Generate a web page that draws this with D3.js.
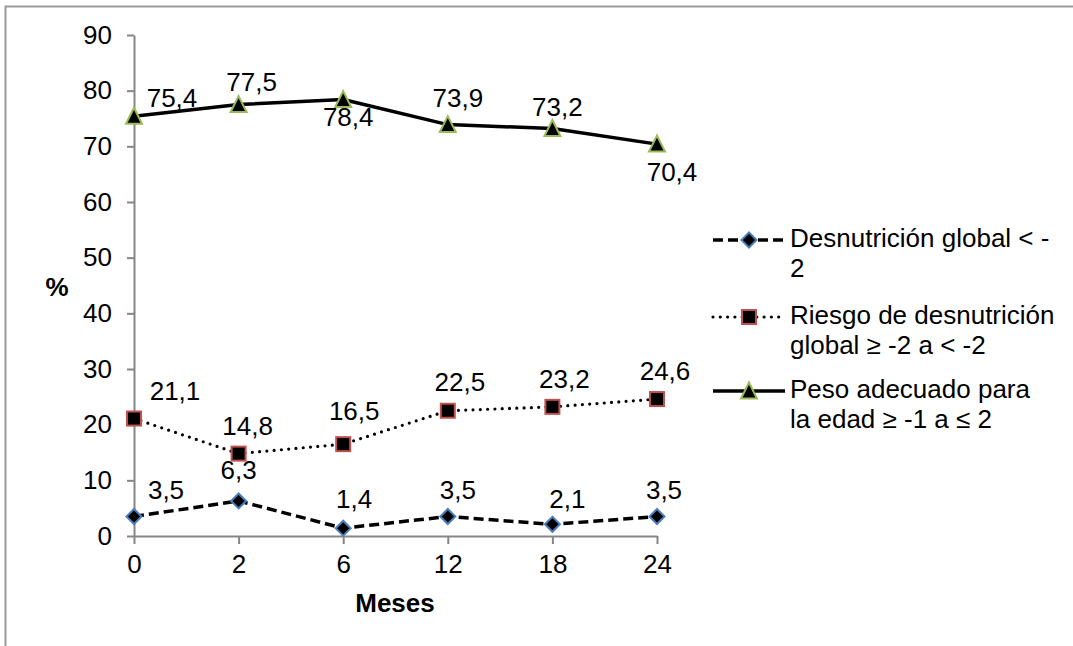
<!DOCTYPE html>
<html>
<head>
<meta charset="utf-8">
<script src="https://cdn.jsdelivr.net/npm/d3@7"></script>
<style>
  html, body { margin: 0; padding: 0; background: #fff; }
  svg { display: block; font-family: "Liberation Sans", Arial, sans-serif; }
</style>
</head>
<body>
<svg id="chart" width="1073" height="646"></svg>
<script>
// Months of follow-up
const meses = ["0", "2", "6", "12", "18", "24"];

// Percentage of children per weight-for-age category
const desnutricion = [3.5, 6.3, 1.4, 3.5, 2.1, 3.5];
const riesgo = [21.1, 14.8, 16.5, 22.5, 23.2, 24.6];
const pesoAdecuado = [75.4, 77.5, 78.4, 73.9, 73.2, 70.4];

const yTicks = [0, 10, 20, 30, 40, 50, 60, 70, 80, 90];

const legendLines = [
  ["Desnutrición global < -", "2"],
  ["Riesgo de desnutrición", "global ≥ -2 a < -2"],
  ["Peso adecuado para", "la edad ≥ -1 a ≤ 2"]
];

const fmt = v => String(v).replace(".", ",");

const svg = d3.select("#chart");
const FONT = 26;
const axisColor = "#868686";

// outer frame
svg.append("rect")
  .attr("x", 5.5).attr("y", 6.5)
  .attr("width", 1100).attr("height", 700)
  .attr("fill", "#fff")
  .attr("stroke", "#9a9a9a").attr("stroke-width", 2);

const x = d3.scalePoint().domain(meses).range([134, 657]);
const y = d3.scaleLinear().domain([0, 90]).range([536, 35]);

// y axis
const gy = svg.append("g").attr("transform", "translate(134,0)")
  .call(d3.axisLeft(y).tickValues(yTicks).tickSize(7).tickPadding(15).tickSizeOuter(0));
// x axis
const gx = svg.append("g").attr("transform", "translate(0,536)")
  .call(d3.axisBottom(x).tickSize(8).tickPadding(10.5).tickSizeOuter(0));

[gx, gy].forEach(g => {
  g.select(".domain").attr("stroke", axisColor).attr("stroke-width", 2);
  g.selectAll(".tick line").attr("stroke", axisColor).attr("stroke-width", 2);
  g.selectAll(".tick text").attr("fill", "#000")
    .style("font-size", FONT + "px")
    .style("font-family", '"Liberation Sans", Arial, sans-serif');
});

// axis titles
svg.append("text").attr("x", 57).attr("y", 287).attr("dy", "0.35em")
  .attr("text-anchor", "middle").style("font-size", FONT + "px").style("font-weight", "bold")
  .text("%");
svg.append("text").attr("x", 395).attr("y", 603).attr("dy", "0.35em")
  .attr("text-anchor", "middle").style("font-size", FONT + "px").style("font-weight", "bold")
  .text("Meses");

// series definitions: line style, marker and label placement
const series = [
  {
    values: desnutricion, dash: "10,5", width: 3.5, cap: "butt",
    marker: "diamond", stroke: "#4a7ebb",
    labelOffsets: [[32, -27], [0, -31], [11, -29], [10, -27], [15, -25], [7, -27]]
  },
  {
    values: riesgo, dash: "0,7.3", width: 3.2, cap: "round",
    marker: "square", stroke: "#c0504d",
    labelOffsets: [[41, -28], [9, -28], [11, -33], [12, -29], [12, -28], [8, -28]]
  },
  {
    values: pesoAdecuado, dash: null, width: 3.5, cap: "butt",
    marker: "triangle", stroke: "#9bbb59",
    labelOffsets: [[38, -18], [13, -23], [5, 17], [10, -27], [5, -22], [15, 28]]
  }
];

function drawMarker(g, type, cx, cy, stroke) {
  if (type === "diamond") {
    const r = 7.5;
    g.append("path")
      .attr("d", `M${cx},${cy - r}L${cx + r},${cy}L${cx},${cy + r}L${cx - r},${cy}Z`)
      .attr("fill", "#000").attr("stroke", stroke).attr("stroke-width", 2);
  } else if (type === "square") {
    const s = 14;
    g.append("rect")
      .attr("x", cx - s / 2).attr("y", cy - s / 2).attr("width", s).attr("height", s)
      .attr("fill", "#000").attr("stroke", stroke).attr("stroke-width", 2);
  } else {
    const h = 15, w = 16;
    g.append("path")
      .attr("d", `M${cx},${cy - h / 2 - 1}L${cx + w / 2},${cy + h / 2}L${cx - w / 2},${cy + h / 2}Z`)
      .attr("fill", "#000").attr("stroke", stroke).attr("stroke-width", 2)
      .attr("stroke-linejoin", "miter");
  }
}

const line = d3.line().x((d, i) => x(meses[i])).y(d => y(d));

series.forEach(s => {
  const g = svg.append("g");
  g.append("path")
    .datum(s.values)
    .attr("d", line)
    .attr("fill", "none")
    .attr("stroke", "#000")
    .attr("stroke-width", s.width)
    .attr("stroke-linecap", s.cap)
    .attr("stroke-linejoin", "round")
    .attr("stroke-dasharray", s.dash);
  s.values.forEach((v, i) => drawMarker(g, s.marker, x(meses[i]), y(v), s.stroke));
  s.values.forEach((v, i) => {
    const [dx, dy] = s.labelOffsets[i];
    g.append("text")
      .attr("x", x(meses[i]) + dx)
      .attr("y", y(v) + dy)
      .attr("dy", "0.35em")
      .attr("text-anchor", "middle")
      .style("font-size", FONT + "px")
      .text(fmt(v));
  });
});

// legend
const legendRows = [247, 324, 398];
series.forEach((s, i) => {
  const g = svg.append("g");
  const ly = legendRows[i] - 7;
  g.append("line")
    .attr("x1", 713).attr("x2", 785).attr("y1", ly).attr("y2", ly)
    .attr("stroke", "#000").attr("stroke-width", s.width)
    .attr("stroke-linecap", s.cap)
    .attr("stroke-dasharray", s.dash);
  drawMarker(g, s.marker, 749, ly, s.stroke);
  const t = g.append("text").attr("x", 790).attr("y", legendRows[i])
    .style("font-size", FONT + "px");
  legendLines[i].forEach((txt, j) => {
    t.append("tspan").attr("x", 790).attr("y", legendRows[i] + j * 30).text(txt);
  });
});
</script>
</body>
</html>
